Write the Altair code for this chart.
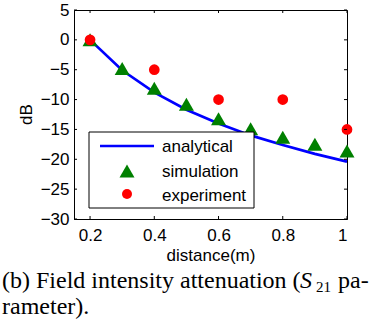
import altair as alt
import pandas as pd

# data
x_an = [0.2, 0.3, 0.4, 0.5, 0.6, 0.7, 0.8, 0.9, 1.0]
y_an = [0.0, -5.1, -8.8, -11.7, -14.0, -16.0, -17.6, -19.1, -20.4]
x_sim = [0.2, 0.3, 0.4, 0.5, 0.6, 0.7, 0.8, 0.9, 1.0]
y_sim = [0.0, -4.8, -8.1, -10.8, -13.2, -14.9, -16.3, -17.5, -18.6]
x_exp = [0.2, 0.4, 0.6, 0.8, 1.0]
y_exp = [0.0, -5.0, -10.0, -10.0, -15.0]
series = ["analytical", "simulation", "experiment"]
colors = ["#0000ff", "#008000", "#ff0000"]
x_ticks = [0.2, 0.4, 0.6, 0.8, 1.0]
y_ticks = [5, 0, -5, -10, -15, -20, -25, -30]

W, H = 273, 209
FONT = "Liberation Sans"
SERIF = "Liberation Serif"

df_an = pd.DataFrame({"x": x_an, "y": y_an})
df_sim = pd.DataFrame({"x": x_sim, "y": y_sim})
df_exp = pd.DataFrame({"x": x_exp, "y": y_exp})

xs = alt.Scale(domain=[0.15, 1.0], nice=False, zero=False)
ys = alt.Scale(domain=[-30, 5], nice=False, zero=False)

xaxis = alt.Axis(values=x_ticks, format="~g", tickSize=0, labelPadding=8, grid=False,
                 title="distance(m)", titlePadding=4, labelFont=FONT, titleFont=FONT,
                 labelFontSize=17, titleFontSize=17, titleFontWeight="normal",
                 labelColor="black", titleColor="black", domainColor="black",
                 labelOverlap=False)
yaxis = alt.Axis(values=y_ticks, tickSize=0, labelPadding=5, grid=False,
                 title=None, labelFont=FONT,
                 labelFontSize=17, labelColor="black", domainColor="black",
                 labelOverlap=False)

X = alt.X("x:Q", scale=xs, axis=xaxis)
Y = alt.Y("y:Q", scale=ys, axis=yaxis)

line = alt.Chart(df_an).mark_line(strokeWidth=2.7, color=colors[0]).encode(x=X, y=Y)
sim = alt.Chart(df_sim).mark_point(filled=True, opacity=1, shape="triangle-up",
                                   size=225, color=colors[1]).encode(x=X, y=Y)
exp = alt.Chart(df_exp).mark_point(filled=True, opacity=1, shape="circle",
                                   size=115, color=colors[2]).encode(x=X, y=Y)

# y-axis title
ytitle = alt.Chart(pd.DataFrame({"t": ["dB"]})).mark_text(
    font=FONT, fontSize=17, angle=270, align="center", baseline="middle", color="black").encode(
    text="t:N", x=alt.value(-47), y=alt.value(H / 2))

# inward ticks
dxt = pd.DataFrame({"x": x_ticks})
dyt = pd.DataFrame({"y": y_ticks})
tb = alt.Chart(dxt).mark_rule(color="black", strokeWidth=1).encode(
    x=X, y=alt.value(H), y2=alt.value(H - 3))
tt = alt.Chart(dxt).mark_rule(color="black", strokeWidth=1).encode(
    x=X, y=alt.value(0), y2=alt.value(3))
tl = alt.Chart(dyt).mark_rule(color="black", strokeWidth=1).encode(
    y=Y, x=alt.value(0), x2=alt.value(3))
tr = alt.Chart(dyt).mark_rule(color="black", strokeWidth=1).encode(
    y=Y, x=alt.value(W), x2=alt.value(W - 3))

# legend (drawn box)
one = pd.DataFrame({"k": [0]})
lg_box = alt.Chart(one).mark_rect(fill="white", stroke="black", strokeWidth=1).encode(
    x=alt.value(15), x2=alt.value(180), y=alt.value(122), y2=alt.value(198))
lg_line = alt.Chart(one).mark_rule(color=colors[0], strokeWidth=2.7).encode(
    x=alt.value(26), x2=alt.value(80), y=alt.value(136))
lg_tri = alt.Chart(one).mark_point(filled=True, opacity=1, shape="triangle-up",
                                  size=225, color=colors[1]).encode(
    x=alt.value(53), y=alt.value(161))
lg_cir = alt.Chart(one).mark_point(filled=True, opacity=1, shape="circle",
                                  size=100, color=colors[2]).encode(
    x=alt.value(53), y=alt.value(184))
lg_txt = [
    alt.Chart(pd.DataFrame({"t": [s]})).mark_text(
        font=FONT, fontSize=17, align="left", baseline="middle", color="black").encode(
        text="t:N", x=alt.value(88), y=alt.value(yy))
    for s, yy in zip(series, [137, 162, 186])
]

def cap(t, x, y, size=24, style="normal"):
    return alt.Chart(pd.DataFrame({"t": [t]})).mark_text(
        font=SERIF, fontSize=size, fontStyle=style, align="left",
        baseline="alphabetic", color="black").encode(
        text="t:N", x=alt.value(x), y=alt.value(y))

cap1 = cap("(b) Field intensity attenuation (", -72, 278)
capS = cap("S", 226, 278, style="italic")
cap21 = cap("21", 242, 282, size=15)
capE = cap("pa-", 264, 278)
cap2 = cap("rameter).", -72, 304)

chart = alt.layer(line, sim, exp, tb, tt, tl, tr, ytitle, lg_box, lg_line, lg_tri, lg_cir,
                  *lg_txt, cap1, capS, cap21, capE, cap2).properties(
    width=W, height=H,
    autosize=alt.AutoSizeParams(type="none"),
    padding={"left": 74, "top": 10, "right": 23, "bottom": 109},
    background="white",
).configure_view(stroke="black", strokeWidth=1)

chart.save("out.html", embed_options={"renderer": "svg", "actions": False})
